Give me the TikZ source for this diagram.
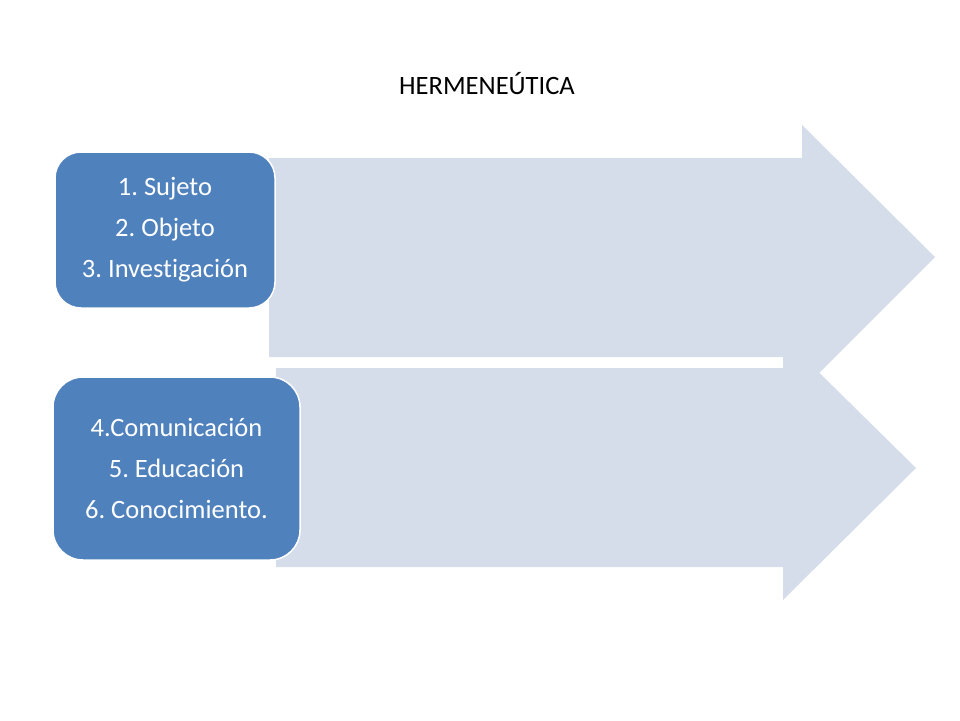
\documentclass[tikz,border=0pt]{standalone}
\usepackage{fontspec}
\setmainfont[Ligatures=NoCommon]{Carlito}
\usetikzlibrary{positioning}
\frenchspacing

\definecolor{arrowfill}{HTML}{D5DDEB}
\definecolor{boxfill}{HTML}{4F81BD}

\begin{document}
\begin{tikzpicture}[x=1pt,y=-1pt,
        bigarrow/.style={fill=arrowfill,draw=none},
        listbox/.style={rectangle,rounded corners=26pt,fill=boxfill,draw=white,
          line width=1.5pt,text=white,font=\fontsize{26.5}{41}\selectfont,
          align=center,inner sep=0pt}]
      \useasboundingbox (0,0) rectangle (960,720);
      \node (title) at (487,84) {\fontsize{26.5}{30}\selectfont HERMENE\'UTICA};
      % arrows behind the boxes
      \fill[bigarrow] (269,158) -- (802,158) -- (802,125) -- (935,257)
        -- (802,390) -- (802,357) -- (269,357) -- cycle;
      \fill[bigarrow] (276,368) -- (783,368) -- (783,337) -- (916,468)
        -- (783,600) -- (783,567) -- (276,567) -- cycle;
      \node (first) [listbox,minimum width=220pt,minimum height=156pt] at (165,230)
        {1. Sujeto\\2. Objeto\\3. Investigaci\'on};
      \node (second) [listbox,minimum width=247pt,minimum height=183pt,rounded corners=30pt] at (176.5,468.5)
        {4.Comunicaci\'on\\5. Educaci\'on\\6. Conocimiento.};
    \end{tikzpicture}
\end{document}
